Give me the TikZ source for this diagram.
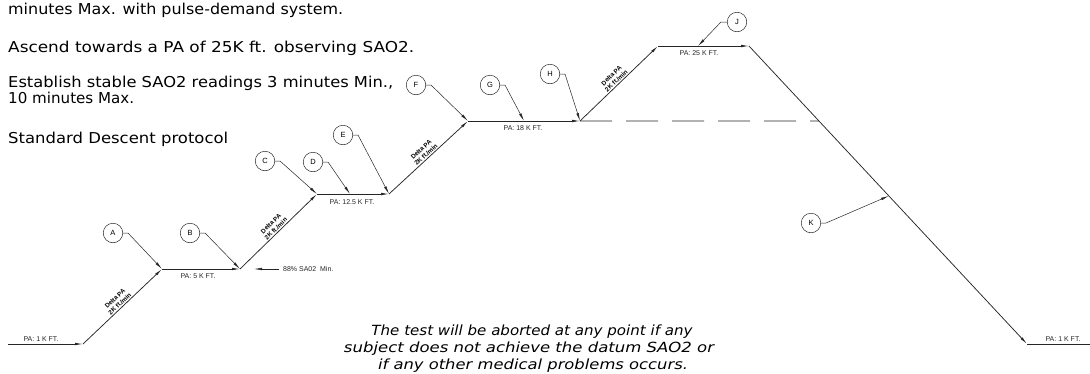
\documentclass[tikz,border=0pt]{standalone}
\usepackage{fontspec}
\usepackage{graphicx}
\setmainfont{DejaVu Sans}
\newfontfamily\cadfont{Liberation Sans}
\usetikzlibrary{arrows.meta,calc}
\begin{document}
\begin{tikzpicture}[x=1pt,y=-1pt,
  mainln/.style={line width=0.75pt, draw=black!85},
  tip/.style={-{Latex[length=8pt,width=2.6pt]}},
  lead/.style={line width=0.5pt, draw=black!85, -{Latex[length=8pt,width=2.6pt]}},
  circ/.style={circle, draw=black!85, line width=0.5pt, minimum size=19.5pt, inner sep=0pt, font=\cadfont\fontsize{7.5}{8}\selectfont},
  palbl/.style={font=\cadfont\fontsize{7}{8}\selectfont, text=black!85, inner sep=0pt},
  dlbl/.style={font=\cadfont\bfseries\fontsize{6.3}{7}\selectfont, align=center, inner sep=1.2pt, sloped, above, midway},
  note/.style={anchor=base west, font=\fontsize{15}{18}\selectfont, inner sep=0pt},
  warn/.style={anchor=base, font=\itshape\fontsize{14}{17}\selectfont, inner sep=0pt},
]
\useasboundingbox (0,0) rectangle (1090,373);

% notes
\node[note] (n1) at (8,14) {\resizebox{335pt}{\height}{minutes Max. with pulse-demand system.}};
\node[note] (n2) at (8,52) {\resizebox{406pt}{\height}{Ascend towards a PA of 25K ft. observing SAO2.}};
\node[note] (n3) at (8,87) {\resizebox{385pt}{\height}{Establish stable SAO2 readings 3 minutes Min.,}};
\node[note] (n4) at (8,103) {\resizebox{126pt}{\height}{10 minutes Max.}};
\node[note] (n5) at (8,143) {\resizebox{220pt}{\height}{Standard Descent protocol}};

\node[warn] (w1) at (532,335) {\resizebox{321pt}{\height}{The test will be aborted at any point if any}};
\node[warn] (w2) at (529,352) {\resizebox{370pt}{\height}{subject does not achieve the datum SAO2 or}};
\node[warn] (w3) at (533,369) {\resizebox{310pt}{\height}{if any other medical problems occurs.}};

% profile
\coordinate (P0) at (8,344);
\coordinate (P1) at (83,344);
\coordinate (P2) at (162,269);
\coordinate (P3) at (240,269);
\coordinate (P4) at (317,194);
\coordinate (P5) at (389,194);
\coordinate (P6) at (468,121);
\coordinate (P7) at (580,121);
\coordinate (P8) at (658,46);
\coordinate (P9) at (749,46);
\coordinate (P10) at (1027,344);
\coordinate (P11) at (1090,344);
\coordinate (X) at ($(P9)!0.2517!(P10)$);

\draw[mainln,tip] (P0) -- (P1);
\draw[mainln,tip] (P1) -- node[dlbl]{Delta PA\\2K ft./min} (P2);
\draw[mainln,tip] (P2) -- (P3);
\draw[mainln,tip] (P3) -- node[dlbl]{Delta PA\\2K ft./min} (P4);
\draw[mainln,tip] (P4) -- (P5);
\draw[mainln,tip] (P5) -- node[dlbl]{Delta PA\\2K ft./min} (P6);
\draw[mainln,tip] (P6) -- (P7);
\draw[mainln,tip] (P7) -- node[dlbl]{Delta PA\\2K ft./min} (P8);
\draw[mainln,tip] (P8) -- (P9);
\draw[mainln,tip] (P9) -- (P10);
\draw[mainln] (P10) -- (P11);
\draw[mainln, dash pattern=on 32pt off 14pt] (P7) -- (X);

% altitude labels
\node[palbl] (l1) at (41,339) {PA: 1 K FT.};
\node[palbl] (l5) at (198,276) {PA: 5 K FT.};
\node[palbl] (l12) at (352,202) {PA: 12.5 K FT.};
\node[palbl] (l18) at (523,128) {PA: 18 K FT.};
\node[palbl] (l25) at (699,53) {PA: 25 K FT.};
\node[palbl] (l1b) at (1063,339) {PA: 1 K FT.};

% 88% note
\node[palbl, anchor=west] (m88) at (283,269) {88\% SA02\ \ Min.};
\coordinate (m88tip) at (254,269);
\draw[lead] (m88.west) ++(-4,0) coordinate (m88s) -- (m88tip);

% targets
\coordinate (Dt) at (350,194);
\coordinate (Gt) at (524,121);
\coordinate (Jt) at (698,46);
\coordinate (Kt) at ($(P9)!0.503!(P10)$);

% callouts
\node[circ] (A) at (113,233) {A};
\node[circ] (B) at (190,233) {B};
\node[circ] (C) at (265,161) {C};
\node[circ] (D) at (313,162) {D};
\node[circ] (E) at (343,135) {E};
\node[circ] (F) at (416,85) {F};
\node[circ] (G) at (490,85) {G};
\node[circ] (H) at (550,74) {H};
\node[circ] (J) at (737,22) {J};
\node[circ] (K) at (811,223) {K};

\draw[lead] (A.east) -- ++(5,0) -- (P2);
\draw[lead] (B.east) -- ++(5,0) -- (P3);
\draw[lead] (C.east) -- ++(5,0) -- (P4);
\draw[lead] (D.east) -- ++(5,0) -- (Dt);
\draw[lead] (E.east) -- ++(5,0) -- (P5);
\draw[lead] (F.east) -- ++(5,0) -- (P6);
\draw[lead] (G.east) -- ++(5,0) -- (Gt);
\draw[lead] (H.east) -- ++(5,0) -- (P7);
\draw[lead] (J.west) -- ++(-6,0) -- (Jt);
\draw[lead] (K.east) -- ++(5,0) -- (Kt);
\end{tikzpicture}
\end{document}
